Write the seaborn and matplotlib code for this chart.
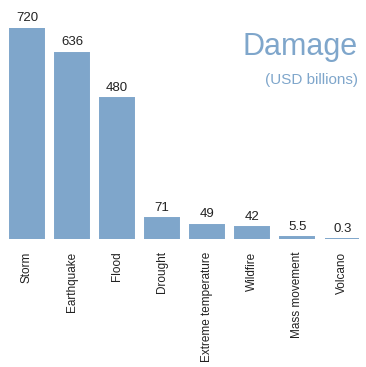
import matplotlib
matplotlib.use("Agg")
import matplotlib.pyplot as plt
import seaborn as sns
import pandas as pd

categories = ["Storm", "Earthquake", "Flood", "Drought", "Extreme temperature",
              "Wildfire", "Mass movement", "Volcano"]
values = [720, 636, 480, 71, 49, 42, 5.5, 0.3]
labels = ["720", "636", "480", "71", "49", "42", "5.5", "0.3"]

sns.set_theme(style="white")
plt.rcParams['font.family'] = ['Liberation Sans', 'DejaVu Sans']

bar_color = "#7fa6cb"
df = pd.DataFrame({"cat": categories, "val": values})

fig = plt.figure(figsize=(3.66, 3.67), dpi=100)
ax = fig.add_axes([0.012, 0.349, 0.985, 0.575])
sns.barplot(data=df, x="cat", y="val", color=bar_color, saturation=1,
            width=0.75, ax=ax, edgecolor=bar_color, linewidth=1.4)
ax.set_ylim(0, 720)
ax.set_xlim(-0.5, 7.5)
for i, (v, t) in enumerate(zip(values, labels)):
    ax.text(i, v + 14, t, ha="center", va="bottom", fontsize=9.5, color="#222222",
            clip_on=False)
ax.set_xlabel("")
ax.set_ylabel("")
ax.set_yticks([])
ax.tick_params(axis="x", length=0, pad=9, labelsize=8.5, labelcolor="#222222")
plt.setp(ax.get_xticklabels(), rotation=90, va="top", ha="center")
for s in ax.spines.values():
    s.set_visible(False)

fig.text(0.978, 0.873, "Damage", ha="right", va="center", fontsize=22, color=bar_color)
fig.text(0.978, 0.782, "(USD billions)", ha="right", va="center", fontsize=11, color=bar_color)

fig.savefig("out.png", dpi=100)
